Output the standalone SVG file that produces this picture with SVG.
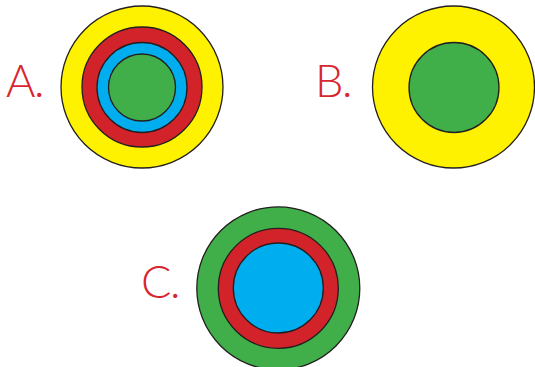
<svg xmlns="http://www.w3.org/2000/svg" width="535" height="367" viewBox="0 0 535 367">
<style>
.c{stroke:#231f20;stroke-width:1.3}
.y{fill:#fff200}.r{fill:#d2232a}.b{fill:#00aeef}.g{fill:#40ae49}
.t{font-family:Lato,"Liberation Sans",sans-serif;font-weight:300;font-size:45px;letter-spacing:-1.5px;fill:#d7262f}
</style>
<rect width="535" height="367" fill="#fff"/>
<g id="A">
<circle class="c y" cx="142" cy="87" r="81"/>
<circle class="c r" cx="142" cy="87" r="60"/>
<circle class="c b" cx="142" cy="87.5" r="45"/>
<circle class="c g" cx="142" cy="87.5" r="33.5"/>
<text class="t" x="6" y="97">A.</text>
</g>
<g id="B">
<circle class="c y" cx="453.5" cy="87" r="81"/>
<circle class="c g" cx="454" cy="87.5" r="45"/>
<text class="t" x="315" y="97">B.</text>
</g>
<g id="C">
<circle class="c g" cx="278.3" cy="288.3" r="81.5"/>
<circle class="c r" cx="278.3" cy="288.3" r="60"/>
<circle class="c b" cx="278.3" cy="288" r="45"/>
<text class="t" x="141" y="298">C.</text>
</g>
</svg>
